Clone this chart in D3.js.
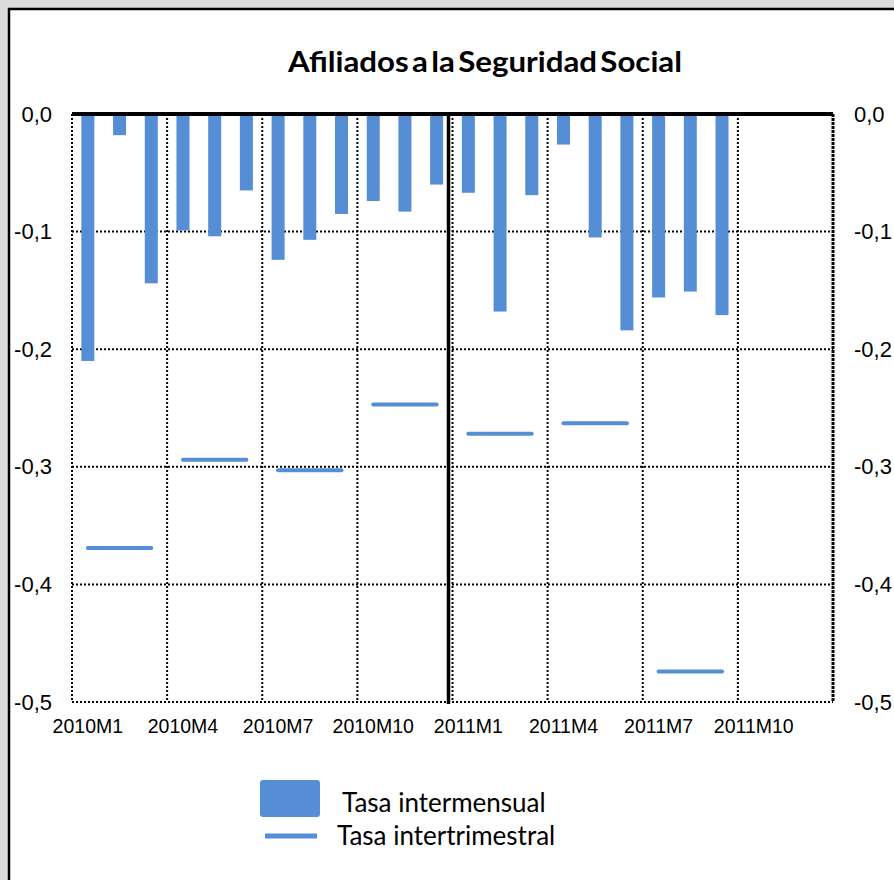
<!DOCTYPE html>
<html>
<head>
<meta charset="utf-8">
<script src="https://cdn.jsdelivr.net/npm/d3@7"></script>
<style>
  html, body { margin: 0; padding: 0; background: #dcdcdc; overflow: hidden; }
  .grid line { stroke: #000; stroke-width: 2; stroke-dasharray: 2,2; }
  .axis text { font-family: 'Liberation Sans', Arial, sans-serif; font-size: 22px; fill: #000; }
</style>
</head>
<body>
<div id="chart"></div>
<script>
const MONTHS = [
  '2010M1', '2010M2', '2010M3', '2010M4', '2010M5', '2010M6',
  '2010M7', '2010M8', '2010M9', '2010M10', '2010M11', '2010M12',
  '2011M1', '2011M2', '2011M3', '2011M4', '2011M5', '2011M6',
  '2011M7', '2011M8', '2011M9', '2011M10', '2011M11', '2011M12'
]
const MONTH_LABELS = ['2010M1', '2010M4', '2010M7', '2010M10', '2011M1', '2011M4', '2011M7', '2011M10']

// tasa intermensual (bars), 2010M1 .. 2011M9
const MONTHLY = [
  -0.210, -0.018, -0.144, -0.099, -0.104, -0.065,
  -0.124, -0.107, -0.085, -0.074, -0.083, -0.060,
  -0.067, -0.168, -0.069, -0.026, -0.105, -0.184,
  -0.156, -0.151, -0.171
]

// tasa intertrimestral (one segment per quarter)
const QUARTER_START = ['2010M1', '2010M4', '2010M7', '2010M10', '2011M1', '2011M4', '2011M7']
const QUARTER_END   = ['2010M3', '2010M6', '2010M9', '2010M12', '2011M3', '2011M6', '2011M9']
const QUARTERLY = [-0.369, -0.294, -0.303, -0.247, -0.272, -0.263, -0.474]

const Y_TICKS = [0, -0.1, -0.2, -0.3, -0.4, -0.5]

const W = 894, H = 880
const PLOT = { LEFT: 72, RIGHT: 833, TOP: 114, BOTTOM: 702 }
const BLUE = '#558ed5'

const locale = d3.formatLocale({ decimal: ',', thousands: '.', grouping: [3], currency: ['', '€'], minus: '-' })
const fmt = locale.format('.1f')

const svg = d3.select('#chart').append('svg')
  .attr('width', W)
  .attr('height', H)

// outer frame
svg.append('rect')
  .attr('x', 9).attr('y', 9)
  .attr('width', 1000).attr('height', 1000)
  .attr('fill', '#fff')
  .attr('stroke', '#000')
  .attr('stroke-width', 2.5)

const x = d3.scaleBand()
  .domain(MONTHS)
  .range([PLOT.LEFT, PLOT.RIGHT])
  .paddingInner(0.59)
  .paddingOuter(0.295)

const y = d3.scaleLinear()
  .domain([-0.5, 0])
  .range([PLOT.BOTTOM, PLOT.TOP])

const step = x.step()
const center = m => x(m) + x.bandwidth() / 2
const leftEdge = m => center(m) - step / 2

// title
svg.append('text')
  .attr('x', 485)
  .attr('y', 72)
  .attr('text-anchor', 'middle')
  .attr('font-family', 'Lato, sans-serif')
  .attr('font-weight', 'bold')
  .attr('font-size', 29)
  .attr('word-spacing', -4)
  .attr('textLength', 394)
  .attr('lengthAdjust', 'spacingAndGlyphs')
  .text('Afiliados a la Seguridad Social')

// horizontal gridlines
svg.append('g')
  .attr('class', 'grid')
  .selectAll('line')
  .data(Y_TICKS.filter(d => d !== 0))
  .join('line')
  .attr('x1', PLOT.LEFT).attr('x2', PLOT.RIGHT)
  .attr('y1', d => y(d)).attr('y2', d => y(d))

// vertical gridlines at quarter boundaries
svg.append('g')
  .attr('class', 'grid')
  .selectAll('line')
  .data(MONTH_LABELS)
  .join('line')
  .attr('x1', d => leftEdge(d)).attr('x2', d => leftEdge(d))
  .attr('y1', PLOT.TOP).attr('y2', PLOT.BOTTOM)

// right border
svg.append('line')
  .attr('x1', PLOT.RIGHT).attr('x2', PLOT.RIGHT)
  .attr('y1', PLOT.TOP).attr('y2', PLOT.BOTTOM)
  .attr('stroke', '#000')
  .attr('stroke-width', 3)
  .attr('stroke-dasharray', '3,1')

// bars
svg.append('g')
  .selectAll('rect')
  .data(MONTHLY)
  .join('rect')
  .attr('x', (d, i) => x(MONTHS[i]))
  .attr('width', x.bandwidth())
  .attr('y', y(0))
  .attr('height', d => y(d) - y(0))
  .attr('fill', BLUE)

// quarterly segments
svg.append('g')
  .selectAll('line')
  .data(QUARTERLY)
  .join('line')
  .attr('x1', (d, i) => center(QUARTER_START[i]))
  .attr('x2', (d, i) => center(QUARTER_END[i]))
  .attr('y1', d => y(d))
  .attr('y2', d => y(d))
  .attr('stroke', BLUE)
  .attr('stroke-width', 4)
  .attr('stroke-linecap', 'round')

// top zero line
svg.append('line')
  .attr('x1', PLOT.LEFT).attr('x2', PLOT.RIGHT)
  .attr('y1', y(0)).attr('y2', y(0))
  .attr('stroke', '#000')
  .attr('stroke-width', 4)

// year separator
const sep = leftEdge('2011M1') - 4
svg.append('line')
  .attr('x1', sep).attr('x2', sep)
  .attr('y1', PLOT.TOP).attr('y2', PLOT.BOTTOM + 2)
  .attr('stroke', '#000')
  .attr('stroke-width', 3.5)

// axes
const yLeft = d3.axisLeft(y).tickValues(Y_TICKS).tickFormat(fmt).tickSize(0).tickPadding(20)
const yRight = d3.axisRight(y).tickValues(Y_TICKS).tickFormat(fmt).tickSize(0).tickPadding(21)
const xAxis = d3.axisBottom(x).tickValues(MONTH_LABELS).tickSize(0).tickPadding(17)

svg.append('g').attr('class', 'axis')
  .attr('transform', `translate(${PLOT.LEFT},0)`)
  .call(yLeft)
svg.append('g').attr('class', 'axis')
  .attr('transform', `translate(${PLOT.RIGHT},0)`)
  .call(yRight)
svg.append('g').attr('class', 'axis x')
  .attr('transform', `translate(0,${PLOT.BOTTOM})`)
  .call(xAxis)

svg.selectAll('.axis .domain').remove()
svg.selectAll('.axis text').attr('font-family', null).attr('font-size', null)
svg.selectAll('.axis.x text').style('font-size', '19.5px')

// legend
const legend = svg.append('g')
  .attr('font-family', 'Lato, sans-serif')
  .attr('font-size', 26)

legend.append('rect')
  .attr('x', 260).attr('y', 780)
  .attr('width', 60).attr('height', 37)
  .attr('rx', 3)
  .attr('fill', BLUE)
legend.append('text')
  .attr('x', 342).attr('y', 812)
  .text('Tasa intermensual')

legend.append('line')
  .attr('x1', 265).attr('x2', 317)
  .attr('y1', 836).attr('y2', 836)
  .attr('stroke', BLUE)
  .attr('stroke-width', 5)
legend.append('text')
  .attr('x', 337).attr('y', 845)
  .text('Tasa intertrimestral')
</script>
</body>
</html>
